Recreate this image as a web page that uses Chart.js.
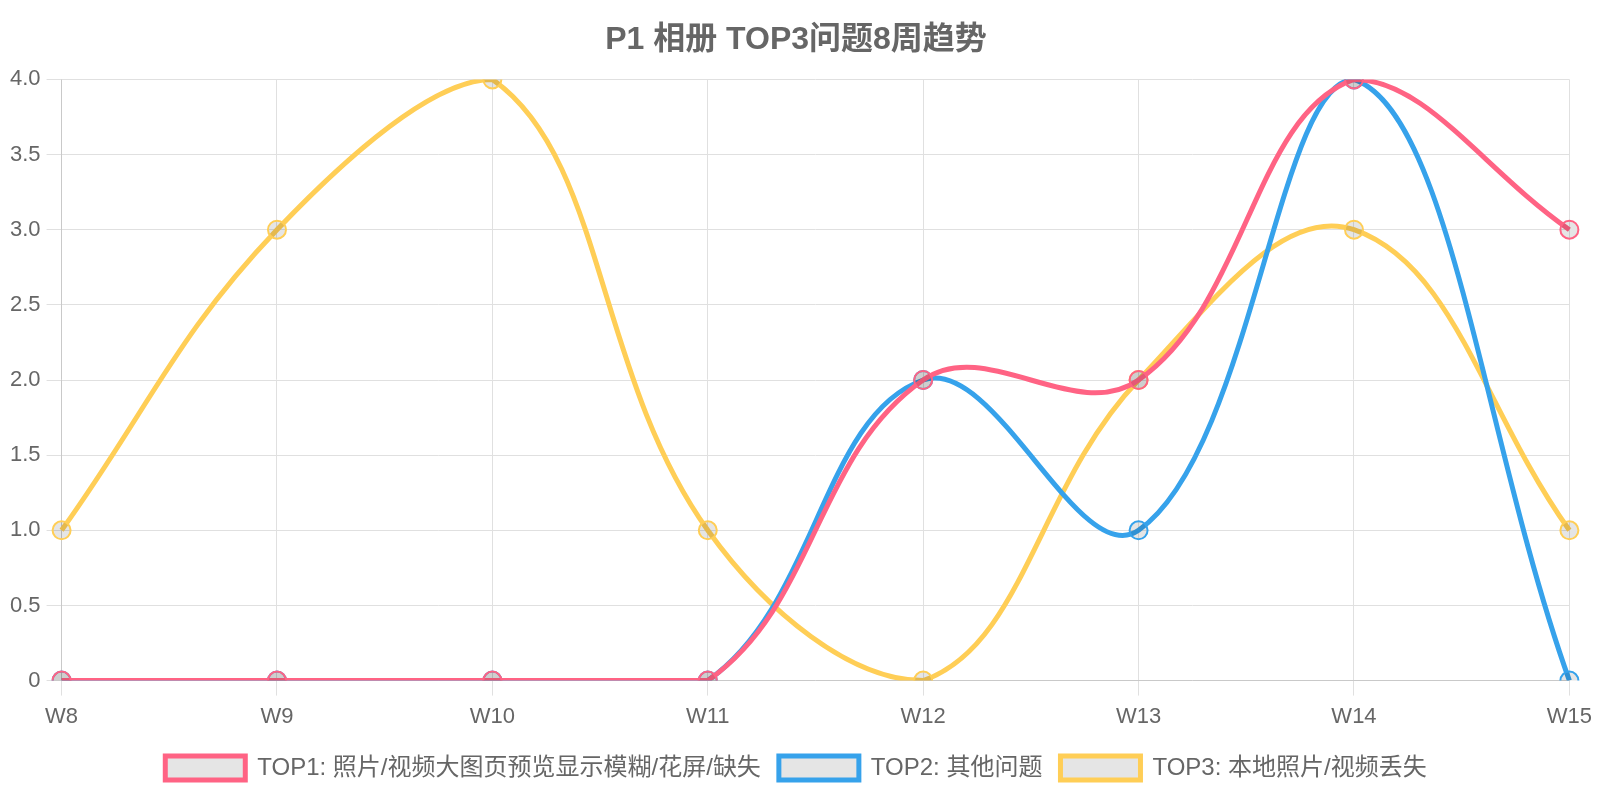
<!DOCTYPE html>
<html lang="zh">
<head>
    <meta charset="utf-8" />
    <title>P1 相册 TOP3问题8周趋势</title>
    <script src="https://cdn.jsdelivr.net/npm/chart.js"></script>
    <style>
        html, body { margin: 0; padding: 0; background: #fff; }
        #wrap { width: 1600px; height: 800px; }
    </style>
</head>
<body>
    <div id="wrap"><canvas id="trend"></canvas></div>
    <script>
        // 周次
        var weeks = ['W8', 'W9', 'W10', 'W11', 'W12', 'W13', 'W14', 'W15'];
        // 各问题每周数量
        var top1Values = [0, 0, 0, 0, 2, 2, 4, 3];
        var top2Values = [0, 0, 0, 0, 2, 1, 4, 0];
        var top3Values = [1, 3, 4, 1, 0, 2, 3, 1];
        var seriesNames = ['TOP1: 照片/视频大图页预览显示模糊/花屏/缺失', 'TOP2: 其他问题', 'TOP3: 本地照片/视频丢失'];

        Chart.defaults.font.family = '"Liberation Sans", Arial, "Noto Sans CJK SC", sans-serif';
        Chart.defaults.color = '#666';

        function makeSet(name, values, color) {
            return {
                label: name,
                data: values,
                borderColor: color,
                backgroundColor: 'rgba(0,0,0,0.1)',
                borderWidth: 5,
                pointRadius: 9,
                pointBorderWidth: 2,
                pointBackgroundColor: 'rgba(0,0,0,0.1)',
                pointBorderColor: color,
                tension: 0.4,
                fill: false
            };
        }

        new Chart(document.getElementById('trend'), {
            type: 'line',
            data: {
                labels: weeks,
                datasets: [
                    makeSet(seriesNames[0], top1Values, '#FF6384'),
                    makeSet(seriesNames[1], top2Values, '#36A2EB'),
                    makeSet(seriesNames[2], top3Values, '#FFCE56')
                ]
            },
            options: {
                responsive: true,
                maintainAspectRatio: false,
                animation: false,
                layout: { padding: { left: 4, right: 12, top: 0, bottom: 10 } },
                plugins: {
                    title: {
                        display: true,
                        text: 'P1 相册 TOP3问题8周趋势',
                        font: { size: 32, weight: 'bold' },
                        color: '#666',
                        padding: { top: 21, bottom: 20 }
                    },
                    legend: {
                        position: 'bottom',
                        labels: {
                            boxWidth: 80,
                            boxHeight: 24,
                            font: { size: 24 },
                            padding: 18
                        }
                    }
                },
                scales: {
                    x: {
                        ticks: { font: { size: 22 }, padding: 8 },
                        grid: { color: '#e0e0e0', tickLength: 15 }
                    },
                    y: {
                        min: 0,
                        max: 4,
                        ticks: { stepSize: 0.5, font: { size: 22 }, padding: 6,
                            callback: function (v) { return v === 0 ? '0' : v.toFixed(1); } },
                        grid: { color: '#e0e0e0', tickLength: 15 }
                    }
                }
            }
        });
    </script>
</body>
</html>
